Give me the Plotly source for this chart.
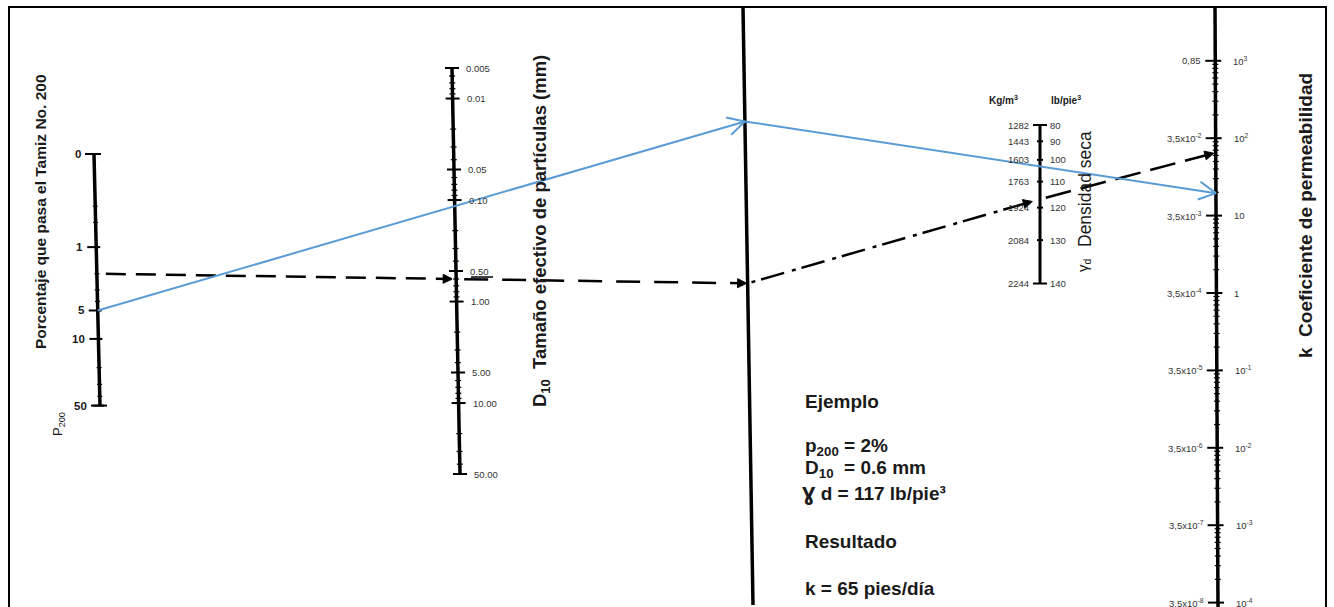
import numpy as np
import plotly.graph_objects as go

# ---------------- data (scale values and labels) ----------------
p200_ticks = [0, 1, 5, 10, 50]
p200_labels = ["0", "1", "5", "10", "50"]
p200_minor = [0.3, 0.5, 2, 3, 4, 20, 30, 40]

d10_ticks = [0.005, 0.01, 0.05, 0.10, 0.50, 1.00, 5.00, 10.00, 50.00]
d10_labels = ["0.005", "0.01", "0.05", "0.10", "0.50", "1.00", "5.00", "10.00", "50.00"]
d10_minor = [0.006, 0.007, 0.008, 0.009, 0.02, 0.03, 0.04, 0.06, 0.07, 0.08, 0.09,
             0.2, 0.3, 0.4, 0.6, 0.7, 0.8, 0.9, 2, 3, 4, 6, 7, 8, 9, 20, 30, 40]

dens_lb = [80, 90, 100, 110, 120, 130, 140]
dens_lb_labels = ["80", "90", "100", "110", "120", "130", "140"]
dens_kg_labels = ["1282", "1443", "1603", "1763", "1924", "2084", "2244"]

k_ticks = [1e3, 1e2, 1e1, 1e0, 1e-1, 1e-2, 1e-3, 1e-4]          # pies/día
k_right_labels = ["10<sup>3</sup>", "10<sup>2</sup>", "10", "1", "10<sup>-1</sup>",
                  "10<sup>-2</sup>", "10<sup>-3</sup>", "10<sup>-4</sup>"]
k_left_labels = ["0,85", "3,5x10<sup>-2</sup>", "3,5x10<sup>-3</sup>", "3,5x10<sup>-4</sup>",
                 "3,5x10<sup>-5</sup>", "3,5x10<sup>-6</sup>", "3,5x10<sup>-7</sup>", "3,5x10<sup>-8</sup>"]
k_minor_mult = [2, 3, 4, 5, 6, 7, 8, 9]

# worked example (black dashed path)
ex_p200, ex_d10, ex_dens, ex_k = 2, 0.6, 117, 65
# hand-drawn blue path
blue_p200, blue_d10, blue_k = 5, 0.115, 19.5

# ---------------- nomograph geometry (layout) ----------------
W, H = 1334, 607


class Scale:
    def __init__(self, f, x0, y0, x1, y1):
        self.f, self.x0, self.y0, self.x1, self.y1 = f, x0, y0, x1, y1

    def xat(self, y):
        return self.x0 + (self.x1 - self.x0) * (y - self.y0) / (self.y1 - self.y0)

    def pt(self, v):
        y = self.f(v)
        return np.array([self.xat(y), y])


def f_p200(p):
    return 154 + 96 * (np.log10(p + 0.12) - np.log10(0.12))


def f_d10(d):
    return 68 + 101.5 * (np.log10(d) - np.log10(0.005))


def f_dens(g):
    return 125 + 301 * (np.log10(1 - 80 / 165.4) - np.log10(1 - g / 165.4))


def f_k(k):
    return 293 - 77.4 * np.log10(k)


S_p = Scale(f_p200, 94, f_p200(0), 100, f_p200(50))
S_d = Scale(f_d10, 452, f_d10(0.005), 460, f_d10(50))
S_g = Scale(f_dens, 1040, f_dens(80), 1040, f_dens(140))
S_k = Scale(f_k, 1215, 7, 1218, 607)
TURN = (np.array([743.0, 7.0]), np.array([753.0, 605.0]))


def intersect(a, b, c, d):
    r, s = b - a, d - c
    t = np.cross(c - a, s) / np.cross(r, s)
    return a + t * r


def unit(a, b):
    v = np.asarray(b, float) - np.asarray(a, float)
    return v / np.hypot(*v)


fig = go.Figure()


def add_lines(segs, width, color="black", dash=None):
    xs, ys = [], []
    for a, b in segs:
        xs += [a[0], b[0], None]
        ys += [a[1], b[1], None]
    fig.add_trace(go.Scatter(x=xs, y=ys, mode="lines", hoverinfo="skip",
                             line=dict(color=color, width=width, dash=dash)))


def tick_segs(S, vals, left, right):
    out = []
    for v in vals:
        x, y = S.pt(v)
        out.append(((x - left, y), (x + right, y)))
    return out


# scale lines
add_lines([(S_p.pt(0), S_p.pt(50))], 3.5)
add_lines([(S_d.pt(0.005), S_d.pt(50))], 3.5)
add_lines([(S_g.pt(80), S_g.pt(140))], 3)
add_lines([((S_k.x0, S_k.y0), (S_k.x1, S_k.y1))], 3.5)
add_lines([TURN], 3.5)

# ticks
add_lines(tick_segs(S_p, p200_ticks, 9, 4) + tick_segs(S_p, [0, 50], 7, 7), 2)
add_lines(tick_segs(S_p, p200_minor, 2.5, 2.5), 1.2)
add_lines(tick_segs(S_d, d10_ticks, 7, 7), 2)
add_lines(tick_segs(S_d, d10_minor, 3, 3), 1.2)
add_lines(tick_segs(S_g, [80, 140], 7, 7) + tick_segs(S_g, dens_lb[1:-1], 3, 3), 2)
add_lines(tick_segs(S_k, k_ticks, 10, 6), 2)
k_minor = [m * 10.0 ** e for e in range(-5, 3) for m in k_minor_mult]
add_lines(tick_segs(S_k, [v for v in k_minor if 1e-4 < v < 3e3], 3, 3), 1.2)

# ---------------- paths ----------------
BLACK = "black"
BLUE = "#5B9BD5"

# black example path
A = S_p.pt(ex_p200)
B = S_d.pt(ex_d10)
T1 = intersect(A, B, *TURN)
G = S_g.pt(ex_dens)
K = S_k.pt(ex_k)

u1 = unit(A, B)
u2 = unit(B, T1)
u3 = unit(T1, G)
u4 = unit(G, K)
add_lines([(A + u1 * 9, B - u1 * 5)], 2.5, BLACK, "20px,10px")
add_lines([(B + u2 * 8, T1 - u2 * 6)], 2.5, BLACK, "24px,14px")
add_lines([(T1 + u3 * 4, G - u3 * 12)], 2.5, BLACK, "4px,6px,24px,8px")
add_lines([(G + u4 * 6, K - u4 * 6)], 2.5, BLACK, "26px,10px")


def filled_head(tip, u, L=9, hw=4.5):
    n = np.array([-u[1], u[0]])
    base = tip - u * L
    p1, p2 = base + n * hw, base - n * hw
    fig.add_trace(go.Scatter(x=[p1[0], tip[0], p2[0], p1[0]], y=[p1[1], tip[1], p2[1], p1[1]],
                             mode="lines", fill="toself", fillcolor="black", hoverinfo="skip",
                             line=dict(color="black", width=1)))


filled_head(B - u1 * 4, u1)
filled_head(T1 - u2 * 1, u2)
filled_head(G - u3 * 8, u3)
filled_head(K - u4 * 2, u4)

# blue hand-drawn path
P = S_p.pt(blue_p200)
D = S_d.pt(blue_d10)
T2 = intersect(P, D, *TURN)
KB = S_k.pt(blue_k)
add_lines([(P, T2), (T2, KB)], 2, BLUE)


def open_head(tip, u, L=17, hw=9):
    n = np.array([-u[1], u[0]])
    base = tip - u * L
    p1, p2 = base + n * hw, base - n * hw
    fig.add_trace(go.Scatter(x=[p1[0], tip[0], p2[0]], y=[p1[1], tip[1], p2[1]],
                             mode="lines", hoverinfo="skip", line=dict(color=BLUE, width=2)))


open_head(T2, unit(P, T2))
open_head(KB, unit(T2, KB))

# ---------------- text ----------------
FONT = "Liberation Sans, Arial, sans-serif"
ann = []


def txt(x, y, s, size, anchor="left", angle=0, color="#1a1a1a", yanchor="middle"):
    ann.append(dict(x=x, y=y, xref="x", yref="y", text=s, showarrow=False,
                    xanchor=anchor, yanchor=yanchor, textangle=angle,
                    font=dict(family=FONT, size=size, color=color)))


for v, lab in zip(p200_ticks, p200_labels):
    x, y = S_p.pt(v)
    txt(x - 11, y, "<b>" + lab + "</b>", 11.5, "right")
for v, lab in zip(d10_ticks, d10_labels):
    x, y = S_d.pt(v)
    txt(x + 12, y, lab, 9.5, "left", color="#333")
# underline of the read value
xu, yu = S_d.pt(0.5)
add_lines([((xu + 15, yu + 6), (xu + 37, yu + 6))], 1.5)

for v, lk, ll in zip(dens_lb, dens_kg_labels, dens_lb_labels):
    x, y = S_g.pt(v)
    txt(x - 9, y, lk, 9.5, "right", color="#333")
    txt(x + 8, y, ll, 9.5, "left", color="#333")

for v, ll, lr in zip(k_ticks, k_left_labels, k_right_labels):
    x, y = S_k.pt(v)
    txt(x - 12, y, ll, 9.5, "right", color="#333")
    txt(x + 16, y, lr, 9.5, "left", color="#333")

# axis titles
txt(40, 212, "<b>Porcentaje que pasa el Tamiz No. 200</b>", 15.5, "center", -90)
txt(58, 424, "P<sub>200</sub>", 13, "center", -90)
txt(541, 231, "<b>D<sub>10</sub>  Tamaño efectivo de partículas (mm)</b>", 18.5, "center", -90)
txt(1003, 100, "<b>Kg/m<sup>3</sup></b>", 10, "center")
txt(1066, 100, "<b>lb/pie<sup>3</sup></b>", 10, "center")
txt(1085, 189, "Densidad seca", 17.5, "center", -90)
txt(1083, 265, "γ<sub>d</sub>", 15, "center", -90)
txt(1305, 216, "<b>k  Coeficiente de permeabilidad</b>", 19, "center", -90)

# example block
EXX = 803
SZ = 19
txt(EXX, 401, "<b>Ejemplo</b>", SZ)
txt(EXX, 447, f"<b>p<sub>200</sub> = {ex_p200}%</b>", SZ)
txt(EXX, 469, f"<b>D<sub>10</sub>  = {ex_d10} mm</b>", SZ)
txt(EXX - 3, 491, f"<b><span style='font-size:24px'>ɣ</span> d = {ex_dens} lb/pie³</b>", SZ)
txt(EXX, 541, "<b>Resultado</b>", SZ)
txt(EXX, 588, f"<b>k = {ex_k} pies/día</b>", SZ)

# frame
shapes = [dict(type="rect", xref="x", yref="y", x0=9, y0=7, x1=1326, y1=640,
               line=dict(color="black", width=2), layer="above")]

fig.update_layout(
    width=W, height=H, autosize=False,
    margin=dict(l=0, r=0, t=0, b=0, pad=0),
    paper_bgcolor="white", plot_bgcolor="white",
    showlegend=False,
    xaxis=dict(range=[0, W], visible=False, fixedrange=True),
    yaxis=dict(range=[H, 0], visible=False, fixedrange=True),
    annotations=ann, shapes=shapes,
)
for tr in fig.data:
    tr.cliponaxis = False

fig.write_html("out.html", config={"displayModeBar": False},
               post_script="document.body.style.margin='0';document.body.style.overflow='hidden';")
